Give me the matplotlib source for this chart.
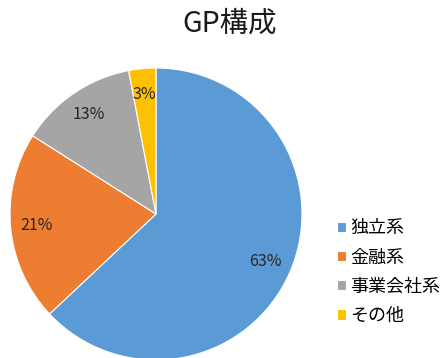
import matplotlib.pyplot as plt

plt.rcParams['font.family'] = ['Noto Sans CJK JP', 'DejaVu Sans']

labels = ["独立系", "金融系", "事業会社系", "その他"]
shares = [63, 21, 13, 3]
colors = ["#5B9BD5", "#ED7D31", "#A5A5A5", "#FFC000"]

fig = plt.figure(figsize=(4.42, 3.58), dpi=100)
ax = fig.add_axes([0.0226, -0.0056, 0.6606, 0.8156])

wedges, texts, autotexts = ax.pie(
    shares, colors=colors, startangle=90, counterclock=False,
    autopct="%d%%", pctdistance=0.82, radius=1.0,
    wedgeprops=dict(edgecolor="white", linewidth=0.8),
    textprops=dict(fontsize=11.5, color="#262626"))
ax.set_xlim(-1, 1)
ax.set_ylim(-1, 1)

fig.text(0.52, 0.934, "GP構成", ha="center", va="center", fontsize=20.5,
         color="#1a1a1a")

fig.legend(wedges, labels, loc="center left", bbox_to_anchor=(0.745, 0.24),
           frameon=False, fontsize=13, handlelength=0.5, handleheight=0.5,
           handletextpad=0.25, labelspacing=0.62, borderaxespad=0)

fig.savefig("out.png", dpi=100)
